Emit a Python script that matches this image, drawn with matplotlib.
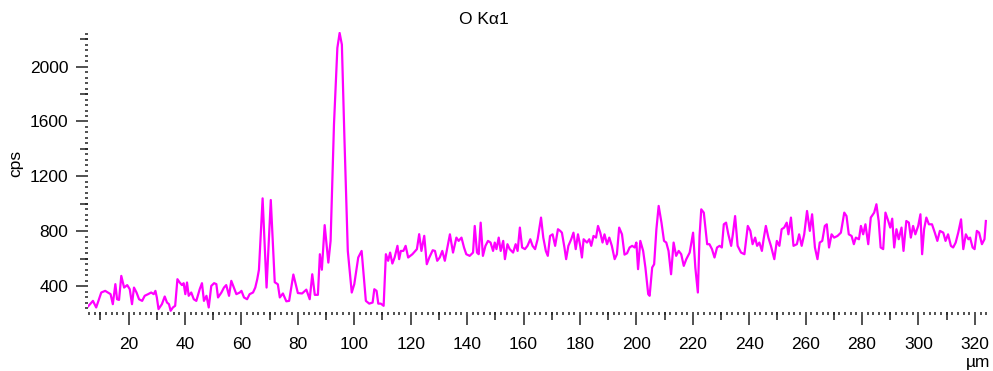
import matplotlib
matplotlib.use("Agg")
import matplotlib.pyplot as plt
import numpy as np
from matplotlib.ticker import MultipleLocator

# Line scan position (um) and O Ka1 counts (cps)
pos_a = [5.6, 7.35, 8.5, 10.3, 11.7, 13.6, 14.4, 15.3, 15.9, 16.6, 17.4, 18.4,
         19.5, 20.4, 21.2, 21.9, 22.8, 23.7, 24.8, 25.7, 26.9, 28.0, 28.9, 29.5,
         30.0, 30.6, 31.8, 32.8, 33.6, 34.3, 34.9, 35.7, 36.5, 37.3, 38.1, 38.9,
         39.5, 40.1, 40.7, 41.3, 42.2, 43.1, 44.0, 45.2, 46.0, 46.7, 47.6, 48.4,
         49.3, 50.3, 51.1, 51.7, 52.9, 53.8, 54.6, 55.6, 56.4, 57.3, 58.2, 59.4,
         60.0, 60.9, 62.0, 62.9, 64.1, 64.9, 65.6]
cps_a = [252, 293, 245, 354, 366, 342, 269, 415, 305, 300, 475, 390,
         408, 378, 269, 390, 354, 305, 293, 330, 342, 354, 342, 366,
         318, 233, 269, 325, 281, 269, 221, 245, 257, 451, 427, 408,
         422, 342, 427, 330, 354, 305, 293, 378, 422, 293, 330, 245,
         402, 422, 415, 318, 354, 390, 408, 330, 439, 390, 342, 354,
         366, 318, 305, 342, 354, 390, 451]

# twin peaks, main O peak and the dip before the plateau
pos_b = [66.2, 67.5, 68.9, 70.4, 71.8, 72.9, 73.6, 74.7, 75.9, 76.9, 78.4, 80.0,
         81.5, 83.0, 84.2, 85.1, 86.0, 87.1, 87.8, 88.5, 89.5, 90.8, 91.6, 92.8,
         94.0, 94.8, 95.6, 96.5, 97.7, 99.1, 100.0, 101.4, 102.6, 103.3, 104.1,
         105.3, 106.5, 107.1, 107.9, 108.5, 109.4, 110.4]
cps_b = [520, 1040, 390, 1028, 429, 414, 318, 347, 290, 293, 485, 350,
         347, 375, 305, 487, 337, 337, 633, 520, 845, 572, 730, 1578,
         2136, 2245, 2160, 1481, 657, 354, 415, 609, 657, 487, 293,
         273, 281, 378, 366, 273, 273, 257]

pos_c = [111.2, 112.0, 112.7, 113.5, 114.3, 115.3, 115.9, 116.5, 117.4, 118.2,
         119.1, 120.6, 122.2, 123.0, 123.8, 124.8, 125.7, 126.6, 127.8, 128.6,
         129.4, 130.3, 131.2, 132.1, 133.9, 135.0, 136.2, 137.0, 138.0, 138.9,
         139.7, 140.9, 142.1, 142.7, 143.5, 144.1, 144.8, 145.6, 146.5, 147.4,
         148.3, 149.2, 149.8, 150.4, 151.2, 151.9, 152.8, 153.4, 154.3, 155.1,
         156.3, 157.2, 157.9, 158.7, 159.5, 160.5, 161.4, 162.4, 163.2, 164.1,
         165.0, 166.2, 167.0, 167.9, 168.6, 169.4, 170.3, 171.2, 172.2, 173.0,
         173.6, 174.5, 175.1, 175.9, 176.9, 177.7, 178.5, 179.3, 180.1, 180.7,
         181.3, 182.5, 183.3, 184.0, 184.8, 185.7, 186.4, 187.2, 188.0, 188.7,
         189.6, 190.4, 191.3, 192.3, 193.1, 193.9, 194.9, 195.8, 196.7, 197.6]
cps_c = [633, 585, 645, 565, 609, 694, 597, 657, 657, 694,
         609, 633, 670, 779, 657, 767, 560, 609, 662, 657,
         585, 609, 657, 585, 778, 645, 754, 730, 754, 682,
         633, 621, 645, 839, 645, 633, 863, 621, 694, 730,
         718, 657, 718, 670, 754, 657, 730, 597, 706, 670,
         645, 706, 657, 827, 682, 670, 694, 742, 694, 670,
         742, 900, 754, 657, 621, 766, 778, 694, 815, 803,
         790, 682, 597, 694, 742, 790, 670, 778, 694, 609,
         742, 718, 742, 694, 766, 754, 839, 790, 718, 778,
         706, 754, 694, 597, 633, 827, 778, 630, 640, 682]

pos_d = [198.5, 199.4, 200.0, 200.6, 201.4, 202.4, 203.2, 204.2, 204.7, 205.6,
         206.3, 207.1, 207.9, 208.9, 209.8, 210.6, 211.4, 212.3, 213.2, 214.1,
         215.0, 215.9, 216.8, 217.7, 218.9, 220.1, 220.9, 221.8, 222.4, 223.0,
         223.9, 225.1, 225.9, 226.8, 227.7, 228.6, 229.5, 230.3, 231.0, 231.8,
         232.6, 233.6, 234.2, 235.0, 235.9, 237.1, 238.3, 239.5, 240.4, 241.2,
         242.1, 242.8, 243.6, 244.5, 245.1, 245.9, 246.8, 247.7, 248.9, 249.8,
         250.7, 251.5, 252.4, 253.3, 253.9, 254.8, 255.7, 256.9, 257.7, 258.6,
         259.5]
cps_d = [694, 682, 718, 524, 730, 657, 536, 342, 330, 536,
         560, 815, 985, 863, 730, 718, 657, 487, 718, 621,
         657, 633, 548, 597, 645, 790, 536, 354, 766, 960,
         936, 706, 706, 670, 609, 682, 694, 682, 851, 863,
         778, 694, 778, 911, 694, 645, 633, 839, 803, 706,
         754, 694, 718, 657, 742, 839, 754, 694, 597, 730,
         694, 815, 827, 863, 778, 900, 694, 706, 778, 694,
         778]

pos_e = [260.5, 261.5, 262.3, 263.3, 264.2, 265.0, 265.9, 266.8, 267.5, 268.3,
         269.2, 270.1, 271.3, 272.5, 273.7, 274.5, 275.3, 276.3, 277.1, 277.8,
         278.9, 279.6, 280.4, 281.2, 282.2, 283.1, 284.3, 285.1, 285.9, 286.6,
         287.5, 288.3, 289.3, 290.0, 290.7, 291.4, 292.2, 293.0, 294.0, 294.7,
         295.7, 296.6, 297.3, 298.1, 298.9, 299.9, 300.7, 301.3, 302.0, 302.8,
         303.7, 304.8, 305.8, 306.7, 307.6, 308.8, 309.6, 310.5, 311.5, 312.3,
         313.2, 314.1, 315.1, 315.9, 316.8, 317.7, 318.3, 319.2, 319.9, 320.7,
         321.5, 322.5, 323.4, 323.9]
cps_e = [948, 803, 924, 682, 597, 718, 730, 839, 851, 682,
         778, 754, 766, 790, 936, 911, 778, 766, 706, 754,
         742, 839, 778, 851, 706, 900, 936, 997, 875, 682,
         670, 936, 875, 827, 892, 682, 815, 742, 827, 657,
         875, 863, 754, 839, 778, 839, 924, 633, 815, 900,
         851, 851, 790, 730, 803, 790, 730, 778, 694, 682,
         718, 790, 887, 670, 778, 742, 754, 682, 670, 803,
         790, 706, 742, 875]

x_ticks = [20, 40, 60, 80, 100, 120, 140, 160, 180, 200, 220, 240, 260, 280, 300, 320]
y_ticks = [400, 800, 1200, 1600, 2000]

pos = pos_a + pos_b + pos_c + pos_d + pos_e
cps = cps_a + cps_b + cps_c + cps_d + cps_e

plt.rcParams['font.family'] = ['Liberation Sans', 'DejaVu Sans']
tick_col = '#222222'

fig = plt.figure(figsize=(9.93, 3.71), dpi=100)
ax = fig.add_axes([88 / 993, 59 / 371, 899 / 993, 280 / 371])
ax.plot(pos, cps, color='#ff00ff', lw=1.6, solid_joinstyle='round')

ax.set_xlim(5.6, 324.3)
ax.set_ylim(212, 2252)
for s in ax.spines.values():
    s.set_visible(False)

# major / minor ticks, Igor style (no axis line)
ax.set_xticks(x_ticks)
ax.set_yticks(y_ticks)
ax.xaxis.set_minor_locator(MultipleLocator(2))
ax.yaxis.set_minor_locator(MultipleLocator(40))
ax.tick_params(axis='x', which='major', length=9, width=1.1, color=tick_col,
               labelsize=12.5, pad=9)
ax.tick_params(axis='y', which='major', length=8.5, width=1.1, color=tick_col,
               labelsize=12.5, pad=5.5)
ax.tick_params(which='minor', length=2.4, width=1.1, color=tick_col)

# medium ticks at the half steps
secx = ax.secondary_xaxis('bottom')
secx.set_xticks(np.arange(10, 330, 20))
secx.tick_params(length=5.5, width=1.1, color=tick_col, labelbottom=False)
secx.spines['bottom'].set_visible(False)
secy = ax.secondary_yaxis('left')
secy.set_yticks(np.arange(600, 2300, 400))
secy.tick_params(length=5.5, width=1.1, color=tick_col, labelleft=False)
secy.spines['left'].set_visible(False)

fig.text(484 / 993, 1 - 20 / 371, 'O K\u03b11', ha='center', va='center', fontsize=12.5)
fig.text(16 / 993, 1 - 163 / 371, 'cps', ha='center', va='center', rotation=90, fontsize=12.5)
fig.text(978 / 993, 1 - 363 / 371, '\u00b5m', ha='center', va='center', fontsize=12.5)

fig.savefig('out.png', dpi=100)
